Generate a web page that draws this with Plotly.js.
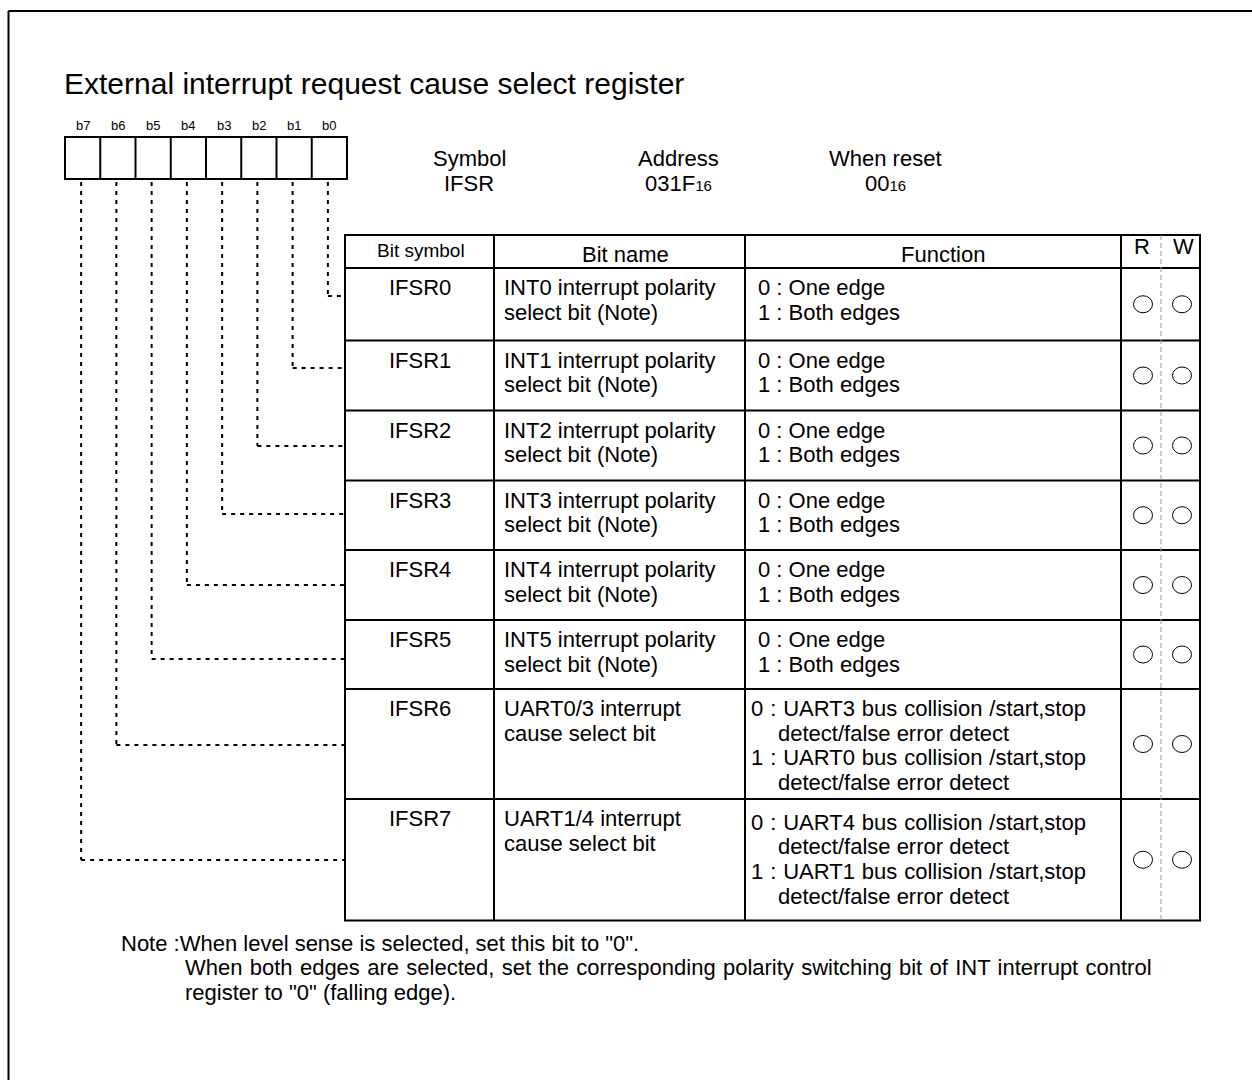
<!DOCTYPE html>
<html><head><meta charset="utf-8">
<script src="https://cdn.plot.ly/plotly-3.0.1.min.js"></script>
<style>html,body{margin:0;padding:0;background:#fff}#chart{width:1252px;height:1080px}</style>
</head><body><div id="chart"></div>
<script>
// ---------- data ----------
const titleText = 'External interrupt request cause select register';
const bitLabels = ['b7', 'b6', 'b5', 'b4', 'b3', 'b2', 'b1', 'b0'];
const infoLabels = ['Symbol', 'Address', 'When reset'];
const infoValues = ['IFSR', '031F', '00'];
const infoSubscripts = ['', '16', '16'];
const columnHeaders = ['Bit symbol', 'Bit name', 'Function', 'R', 'W'];
const bitSymbols = ['IFSR0', 'IFSR1', 'IFSR2', 'IFSR3', 'IFSR4', 'IFSR5', 'IFSR6', 'IFSR7'];
const bitNames = [
  'INT0 interrupt polarity\nselect bit (Note)',
  'INT1 interrupt polarity\nselect bit (Note)',
  'INT2 interrupt polarity\nselect bit (Note)',
  'INT3 interrupt polarity\nselect bit (Note)',
  'INT4 interrupt polarity\nselect bit (Note)',
  'INT5 interrupt polarity\nselect bit (Note)',
  'UART0/3 interrupt\ncause select bit',
  'UART1/4 interrupt\ncause select bit'
];
const functionOption0 = [
  '0 : One edge', '0 : One edge', '0 : One edge', '0 : One edge', '0 : One edge', '0 : One edge',
  '0 : UART3 bus collision /start,stop\ndetect/false error detect',
  '0 : UART4 bus collision /start,stop\ndetect/false error detect'
];
const functionOption1 = [
  '1 : Both edges', '1 : Both edges', '1 : Both edges', '1 : Both edges', '1 : Both edges', '1 : Both edges',
  '1 : UART0 bus collision /start,stop\ndetect/false error detect',
  '1 : UART1 bus collision /start,stop\ndetect/false error detect'
];
const readMark = ['○', '○', '○', '○', '○', '○', '○', '○'];
const writeMark = ['○', '○', '○', '○', '○', '○', '○', '○'];
const noteLines = [
  'Note :When level sense is selected, set this bit to "0".',
  'When both edges are selected, set the corresponding polarity switching bit of INT interrupt control',
  'register to "0" (falling edge).'
];

// ---------- layout constants ----------
const FONT = 'Liberation Sans, Arial, Helvetica, sans-serif';
const FS = 22;
const LH = 24.7;
const regLeft = 65, regRight = 347, regTop = 137, regBottom = 179;
const cellW = (regRight - regLeft) / bitLabels.length;
const colX = [345, 494, 745, 1121, 1200];
const rwMid = 1161;
const tableTop = 235, headerBottom = 268;
const rowBottoms = [340.5, 410.5, 480.5, 550, 620, 689, 799, 920.5];
const connectorY = [296, 368, 446, 514, 585, 659, 745, 860];

const shapes = [];
const ann = [];
function line(x0, y0, x1, y1, w, color, dash) {
  shapes.push({type: 'line', xref: 'x', yref: 'y', x0, y0, x1, y1,
    line: {width: w, color: color || '#000', dash: dash || 'solid'}});
}
function text(t, x, y, size, xanchor, wordSpacing) {
  const body = wordSpacing ? '<span style="word-spacing:' + wordSpacing + 'px">' + t + '</span>' : t;
  ann.push({text: body, x, y, xref: 'x', yref: 'y', showarrow: false,
    xanchor: xanchor || 'left', yanchor: 'middle', font: {family: FONT, size, color: '#000'}});
}

// outer frame (top and left visible)
line(8.5, 11, 1260, 11, 2);
line(8.5, 11, 8.5, 1090, 2);

// title
text(titleText, 62, 83, 30);

// register boxes
shapes.push({type: 'rect', x0: regLeft, x1: regRight, y0: regTop, y1: regBottom, line: {width: 2, color: '#000'}});
bitLabels.forEach((b, i) => {
  const cx = regLeft + cellW * (i + 0.5);
  if (i > 0) line(regLeft + cellW * i, regTop, regLeft + cellW * i, regBottom, 2);
  text(b, cx, 125, 13, 'center');
});

// dashed connectors
bitLabels.forEach((b, i) => {
  const bitIdx = bitLabels.length - 1 - i;
  const cx = regLeft + cellW * (i + 0.5) - 1.5;
  const cy = connectorY[bitIdx];
  line(cx, regBottom + 3, cx, cy, 2, '#000', '4px,5px');
  line(cx, cy, colX[0], cy, 2, '#000', '4px,5px');
});

// symbol/address/reset
const infoX = [469, 678, 885];
infoLabels.forEach((l, i) => {
  text(l, infoX[i], 158, FS, 'center');
  const v = infoValues[i] + (infoSubscripts[i] ? '<span style="font-size:15px">' + infoSubscripts[i] + '</span>' : '');
  text(v, infoX[i], 183, FS, 'center');
});

// table frame
shapes.push({type: 'rect', x0: colX[0], x1: colX[4], y0: tableTop, y1: rowBottoms[rowBottoms.length - 1], line: {width: 2, color: '#000'}});
for (let c = 1; c < colX.length - 1; c++) line(colX[c], tableTop, colX[c], rowBottoms[rowBottoms.length - 1], 2);
line(colX[0], headerBottom, colX[4], headerBottom, 2);
rowBottoms.slice(0, -1).forEach(y => line(colX[0], y, colX[4], y, 2));
line(rwMid, tableTop, rwMid, rowBottoms[rowBottoms.length - 1], 1, '#999', '5px,3px');

// headers
text(columnHeaders[0], 421, 250, 19, 'center');
text(columnHeaders[1], 625, 254, FS, 'center');
text(columnHeaders[2], 943, 254, FS, 'center');
text(columnHeaders[3], 1142, 246, FS, 'center');
text(columnHeaders[4], 1183, 246, FS, 'center');

// rows
bitSymbols.forEach((s, r) => {
  const top = r === 0 ? headerBottom : rowBottoms[r - 1];
  const bottom = rowBottoms[r];
  const y0 = top + 19.5;
  text(s, 420, y0, FS, 'center');
  bitNames[r].split('\n').forEach((ln, k) => text(ln, 502, y0 + k * LH, FS));
  const multi = functionOption0[r].indexOf('\n') >= 0;
  const fx = multi ? 749 : 756;
  let fy = multi && r === 7 ? top + 23 : y0;
  [functionOption0[r], functionOption1[r]].forEach(opt => {
    opt.split('\n').forEach((ln, k) => {
      if (k === 0) text(ln, fx, fy, FS, 'left', multi ? 0.8 : 0);
      else text(ln, 776, fy, FS);
      fy += LH;
    });
  });
  const cy = (top + bottom) / 2;
  [[1143, readMark[r]], [1182, writeMark[r]]].forEach(([cx, m]) => {
    if (m === '○') shapes.push({type: 'circle', x0: cx - 9.5, x1: cx + 9.5, y0: cy - 8.5, y1: cy + 8.5, line: {width: 1, color: '#000'}});
  });
});

// notes (second line is justified in the original)
text(noteLines[0], 119, 943, FS);
text(noteLines[1], 183, 967, FS, 'left', 1.2);
text(noteLines[2], 183, 992, FS);

const layout = {
  width: 1252, height: 1080,
  margin: {l: 0, r: 0, t: 0, b: 0},
  paper_bgcolor: '#fff', plot_bgcolor: '#fff',
  xaxis: {range: [0, 1252], visible: false, fixedrange: true},
  yaxis: {range: [1080, 0], visible: false, fixedrange: true},
  showlegend: false,
  shapes: shapes,
  annotations: ann
};
Plotly.newPlot('chart', [{x: [], y: [], type: 'scatter'}], layout, {staticPlot: true, displayModeBar: false});
</script></body></html>
